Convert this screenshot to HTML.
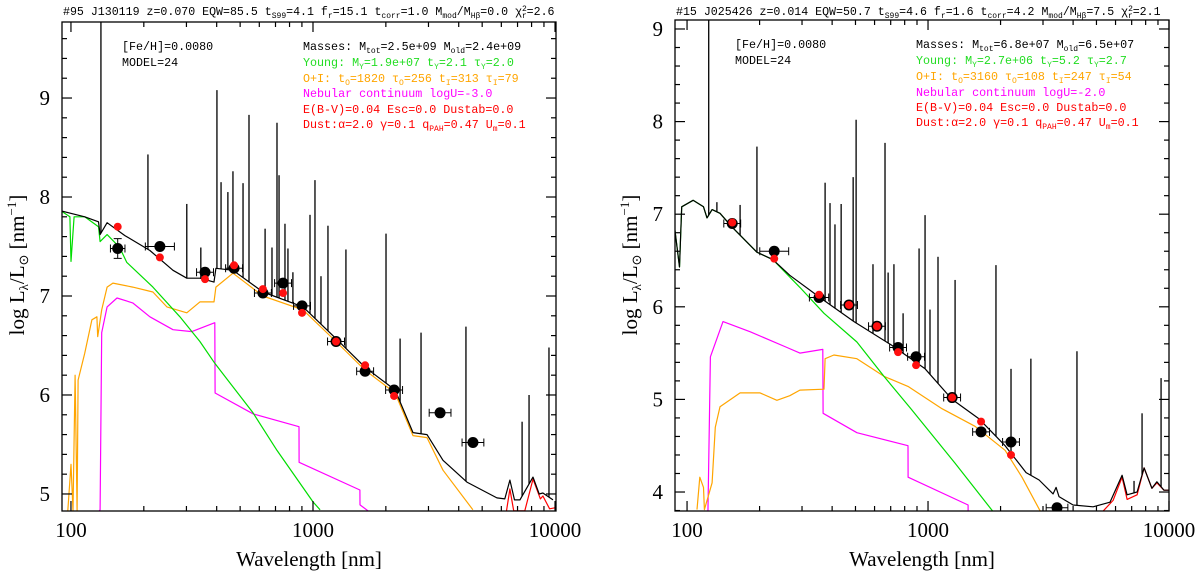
<!DOCTYPE html>
<html><head><meta charset="utf-8"><title>SED fits</title>
<style>
html,body{margin:0;padding:0;background:#fff;}
svg{display:block;}
.ttl{font-family:"Liberation Mono",monospace;font-size:11.6px;fill:#000;}
.ann{font-family:"Liberation Mono",monospace;font-size:11.7px;}
.sb{font-size:8px;}
.tick{font-family:"Liberation Serif",serif;font-size:21px;fill:#000;}
.axl{font-family:"Liberation Serif",serif;font-size:21px;fill:#000;}
</style></head>
<body>
<svg id="chart" width="1200" height="572" viewBox="0 0 1200 572" xmlns="http://www.w3.org/2000/svg">
<defs>
<clipPath id="clip1"><rect x="62" y="22" width="494" height="489"/></clipPath>
<clipPath id="clip2"><rect x="675" y="20" width="494" height="491"/></clipPath>
</defs>
<text class="ttl" x="63" y="15">#95 J130119 z=0.070  EQW=85.5 t<tspan class="sb" dy="3">S99</tspan><tspan dy="-3">=4.1 f</tspan><tspan class="sb" dy="3">r</tspan><tspan dy="-3">=15.1 t</tspan><tspan class="sb" dy="3">corr</tspan><tspan dy="-3">=1.0 M</tspan><tspan class="sb" dy="3">mod</tspan><tspan dy="-3">/M</tspan><tspan class="sb" dy="3">Hβ</tspan><tspan dy="-3">=0.0 χ</tspan><tspan class="sb" dy="-4">2</tspan><tspan class="sb" dx="-5" dy="7">r</tspan><tspan dy="-3">=2.6</tspan></text>
<text class="ttl" x="676" y="15">#15 J025426 z=0.014  EQW=50.7 t<tspan class="sb" dy="3">S99</tspan><tspan dy="-3">=4.6 f</tspan><tspan class="sb" dy="3">r</tspan><tspan dy="-3">=1.6 t</tspan><tspan class="sb" dy="3">corr</tspan><tspan dy="-3">=4.2 M</tspan><tspan class="sb" dy="3">mod</tspan><tspan dy="-3">/M</tspan><tspan class="sb" dy="3">Hβ</tspan><tspan dy="-3">=7.5 χ</tspan><tspan class="sb" dy="-4">2</tspan><tspan class="sb" dx="-5" dy="7">r</tspan><tspan dy="-3">=2.1</tspan></text>

<g>
<text class="ann" x="122" y="50" fill="#000">[Fe/H]=0.0080</text>
<text class="ann" x="122" y="66" fill="#000">MODEL=24</text>
<text class="ann" x="303" y="50" fill="#000">Masses: M<tspan class="sb" dy="3">tot</tspan><tspan dy="-3">=2.5e+09 M</tspan><tspan class="sb" dy="3">old</tspan><tspan dy="-3">=2.4e+09</tspan></text>
<text class="ann" x="303" y="66" fill="#22dd22">Young: M<tspan class="sb" dy="3">Y</tspan><tspan dy="-3">=1.9e+07 t</tspan><tspan class="sb" dy="3">Y</tspan><tspan dy="-3">=2.1 τ</tspan><tspan class="sb" dy="3">Y</tspan><tspan dy="-3">=2.0</tspan></text>
<text class="ann" x="303" y="82" fill="#ffa500">O+I: t<tspan class="sb" dy="3">O</tspan><tspan dy="-3">=1820 τ</tspan><tspan class="sb" dy="3">O</tspan><tspan dy="-3">=256 t</tspan><tspan class="sb" dy="3">I</tspan><tspan dy="-3">=313 τ</tspan><tspan class="sb" dy="3">I</tspan><tspan dy="-3">=79</tspan></text>
<text class="ann" x="303" y="97" fill="#ff00ff">Nebular continuum logU=-3.0</text>
<text class="ann" x="303" y="113" fill="#ff0000">E(B-V)=0.04 Esc=0.0 Dustab=0.0</text>
<text class="ann" x="303" y="128" fill="#ff0000">Dust:α=2.0 γ=0.1 q<tspan class="sb" dy="3">PAH</tspan><tspan dy="-3">=0.47 U</tspan><tspan class="sb" dy="3">m</tspan><tspan dy="-3">=0.1</tspan></text>
</g>
<g>
<text class="ann" x="735" y="48" fill="#000">[Fe/H]=0.0080</text>
<text class="ann" x="735" y="64" fill="#000">MODEL=24</text>
<text class="ann" x="916" y="48" fill="#000">Masses: M<tspan class="sb" dy="3">tot</tspan><tspan dy="-3">=6.8e+07 M</tspan><tspan class="sb" dy="3">old</tspan><tspan dy="-3">=6.5e+07</tspan></text>
<text class="ann" x="916" y="64" fill="#22dd22">Young: M<tspan class="sb" dy="3">Y</tspan><tspan dy="-3">=2.7e+06 t</tspan><tspan class="sb" dy="3">Y</tspan><tspan dy="-3">=5.2 τ</tspan><tspan class="sb" dy="3">Y</tspan><tspan dy="-3">=2.7</tspan></text>
<text class="ann" x="916" y="80" fill="#ffa500">O+I: t<tspan class="sb" dy="3">O</tspan><tspan dy="-3">=3160 τ</tspan><tspan class="sb" dy="3">O</tspan><tspan dy="-3">=108 t</tspan><tspan class="sb" dy="3">I</tspan><tspan dy="-3">=247 τ</tspan><tspan class="sb" dy="3">I</tspan><tspan dy="-3">=54</tspan></text>
<text class="ann" x="916" y="96" fill="#ff00ff">Nebular continuum logU=-2.0</text>
<text class="ann" x="916" y="111" fill="#ff0000">E(B-V)=0.04 Esc=0.0 Dustab=0.0</text>
<text class="ann" x="916" y="126" fill="#ff0000">Dust:α=2.0 γ=0.1 q<tspan class="sb" dy="3">PAH</tspan><tspan dy="-3">=0.47 U</tspan><tspan class="sb" dy="3">m</tspan><tspan dy="-3">=0.1</tspan></text>
</g>

<text class="axl" transform="translate(24,265) rotate(-90)" text-anchor="middle">log L<tspan font-size="13" dy="4">λ</tspan><tspan dy="-4">/L</tspan><tspan font-size="13" dy="4">⊙</tspan><tspan dy="-4"> [nm</tspan><tspan font-size="13" dy="-8">−1</tspan><tspan dy="8">]</tspan></text>
<text class="axl" transform="translate(637,265) rotate(-90)" text-anchor="middle">log L<tspan font-size="13" dy="4">λ</tspan><tspan dy="-4">/L</tspan><tspan font-size="13" dy="4">⊙</tspan><tspan dy="-4"> [nm</tspan><tspan font-size="13" dy="-8">−1</tspan><tspan dy="8">]</tspan></text>
<text class="axl" x="309" y="566" text-anchor="middle">Wavelength [nm]</text>
<text class="axl" x="922" y="566" text-anchor="middle">Wavelength [nm]</text>
</svg>
<script>
const p1TotLam = [91,114,130,132,141,167,212,264,301,341,390,397,467,621,910,1256,1641,2184,2590,2958,3444,4325,5750,6200,6510,6800,7160,8110,8600,8910,9810];
const p1TotL   = [7.86,7.80,7.75,7.62,7.74,7.61,7.46,7.26,7.18,7.18,7.14,7.28,7.26,7.04,6.89,6.56,6.28,6.05,5.62,5.60,5.34,5.12,4.96,4.95,5.14,4.94,4.94,5.17,5.00,5.01,4.94];
const p1YoungLam = [91,99,100,103,114,130,132,141,159,170,218,282,341,393,565,710,1000,1070];
const p1YoungL   = [7.86,7.80,7.35,7.80,7.80,7.70,7.55,7.62,7.49,7.34,7.09,6.79,6.54,6.32,5.82,5.44,4.92,4.84];
const p1OldLam = [97,100,102,104,106,107,114,122,128,129,134,141,149,180,218,249,301,341,390,397,467,621,910,1256,1641,2184,2590,2958,3444,4580];
const p1OldL   = [4.83,5.3,4.83,6.2,4.83,6.15,6.42,6.76,6.79,6.59,6.86,7.09,7.13,7.09,7.04,6.89,6.83,6.94,6.94,7.09,7.23,7.00,6.86,6.53,6.25,6.02,5.59,5.57,5.24,4.84];
const p1NebLam = [131,132,134,141,155,180,212,264,316,393,394,565,875,876,1563,1564,1687];
const p1NebL   = [4.83,4.84,6.63,6.89,6.98,6.93,6.79,6.66,6.64,6.73,6.02,5.81,5.68,5.32,5.04,4.89,4.83];
const p1DustLam = [6300,6510,6750,7500,8110,8700,8910,9500,9990];
const p1DustL   = [4.83,5.05,4.83,4.83,5.15,4.95,4.98,4.85,4.86];
const p1LineLam = [133,208,301,344,401,417,445,467,514,544,634,677,710,724,766,788,826,972,1019,1079,1153,1368,2003,2290,2795,4285,7310,7810,9440];
const p1LinePeak= [9.9,8.43,7.93,7.49,9.08,8.15,8.05,8.26,8.14,8.83,7.68,7.49,8.75,8.22,7.73,7.48,7.24,7.82,8.17,7.20,7.71,7.47,7.63,6.57,6.63,6.69,5.73,6.00,6.48];
const p1ObsLam = [156,233,358,472,621,752,901,1245,1642,2163,3350,4580];
const p1ObsL   = [7.48,7.50,7.24,7.28,7.03,7.13,6.90,6.54,6.24,6.05,5.82,5.52];
const p1ObsXerr= [0.03,0.06,0.035,0.035,0.035,0.035,0.035,0.035,0.035,0.035,0.045,0.045];
const p1ObsYerr= [0.10,0.03,0.03,0.02,0.02,0.02,0.02,0.02,0.02,0.02,0.02,0.02];
const p1ModL   = [7.70,7.39,7.17,7.31,7.07,7.03,6.83,6.54,6.30,5.99];
const p1YTicks = [5,6,7,8,9];

const p2TotLam = [89,93,95,106,117,121,127,137,154,195,227,267,356,493,702,972,1259,1629,2088,2553,2890,3305,3399,3497,3998,4840,5690,6390,6700,7370,7880,8490,8910,9530,9990];
const p2TotL   = [6.83,6.43,7.08,7.15,7.08,6.96,7.05,7.01,6.86,6.59,6.51,6.34,6.10,5.84,5.59,5.33,5.00,4.79,4.50,4.21,4.13,3.98,4.05,3.95,3.86,3.84,3.89,4.18,3.97,4.00,4.26,4.04,4.11,4.02,4.02];
const p2YoungLam = [89,93,95,106,117,121,127,137,154,195,227,294,370,507,656,849,1295,1898];
const p2YoungL   = [6.83,6.43,7.08,7.15,7.08,6.96,7.05,7.01,6.86,6.59,6.51,6.21,5.93,5.62,5.25,4.90,4.31,3.76];
const p2OldLam = [110,113,117,118,127,131,137,166,201,236,267,294,370,374,407,507,656,826,1143,1567,2088,2454,2970];
const p2OldL   = [3.81,4.16,4.05,3.81,4.10,4.70,4.92,5.07,5.07,4.99,5.04,5.10,5.11,5.44,5.48,5.44,5.25,5.14,4.90,4.71,4.45,4.16,3.76];
const p2NebLam = [122,125,141,183,260,294,366,367,507,826,827,1466,1467];
const p2NebL   = [3.76,5.46,5.84,5.73,5.56,5.50,5.54,4.85,4.64,4.50,4.16,3.86,3.76];
const p2DustLam = [5180,5860,6390,6700,7370,7880,8490,8910,9530,9990];
const p2DustL   = [3.76,3.91,4.16,3.92,3.97,4.26,4.04,4.10,4.02,4.02];
const p2LineLam = [123,133,166,195,374,392,411,436,489,503,591,663,683,722,788,918,972,1019,1100,1295,1914,2210,2672,4150,7160,7730,9270];
const p2LinePeak= [9.2,7.13,7.10,7.73,7.34,7.12,6.89,7.11,7.40,8.02,6.46,7.77,6.37,6.46,5.93,6.63,6.99,5.97,6.54,6.29,6.45,5.33,5.44,5.52,4.12,4.85,5.23];
const p2ObsLam = [154,230,353,470,614,751,892,1259,1660,2210,3430];
const p2ObsL   = [6.90,6.60,6.10,6.02,5.79,5.56,5.46,5.02,4.65,4.54,3.83];
const p2ObsXerr= [0.035,0.06,0.04,0.035,0.035,0.035,0.035,0.035,0.035,0.035,0.045];
const p2ObsYerr= [0.02,0.03,0.02,0.02,0.02,0.02,0.02,0.02,0.02,0.02,0.02];
const p2ModL   = [6.91,6.52,6.13,6.02,5.79,5.51,5.37,5.02,4.76,4.40];
const p2YTicks = [4,5,6,7,8,9];

const NS = 'http://www.w3.org/2000/svg';
const svg = document.getElementById('chart');

const P1 = {id:1, px0:62, px1:556, py0:22, py1:511, lx0:1.963, lx1:4.004, ly0:4.828, ly1:9.768, clip:'url(#clip1)', labelX:50};
const P2 = {id:2, px0:675, px1:1169, py0:20, py1:511, lx0:1.950, lx1:4.000, ly0:3.795, ly1:9.097, clip:'url(#clip2)', labelX:663};

function sx(p, lam){ return p.px0 + (Math.log10(lam)-p.lx0)/(p.lx1-p.lx0)*(p.px1-p.px0); }
function sy(p, L){ return p.py1 - (L-p.ly0)/(p.ly1-p.ly0)*(p.py1-p.py0); }
function el(tag, attrs, parent){
  const e = document.createElementNS(NS, tag);
  for (const k in attrs) e.setAttribute(k, attrs[k]);
  (parent||svg).appendChild(e);
  return e;
}
function interp(lamArr, LArr, lam){
  const x = Math.log10(lam);
  for (let i=0;i<lamArr.length-1;i++){
    const a=Math.log10(lamArr[i]), b=Math.log10(lamArr[i+1]);
    if (x>=a && x<=b){ const t=(b===a)?0:(x-a)/(b-a); return LArr[i]+t*(LArr[i+1]-LArr[i]); }
  }
  return x<Math.log10(lamArr[0]) ? LArr[0] : LArr[LArr.length-1];
}
function curve(g, p, lamArr, LArr, color, name, w){
  let d='';
  for (let i=0;i<lamArr.length;i++) d += (i?'L':'M') + sx(p,lamArr[i]).toFixed(1)+','+sy(p,LArr[i]).toFixed(1);
  const e = el('path',{d:d, fill:'none', stroke:color, 'stroke-width':w||1.2, 'stroke-linejoin':'round'}, g);
  
  
}

function drawPanel(p, D){
  const g = el('g', {'clip-path':p.clip});
  
  
  curve(g,p,D.nebLam,D.nebL,'#ff00ff','nebular-continuum-curve');
  curve(g,p,D.oldLam,D.oldL,'#ffa500','old-intermediate-population-curve');
  curve(g,p,D.youngLam,D.youngL,'#00dd00','young-population-curve');
  curve(g,p,D.dustLam,D.dustL,'#ff0000','dust-emission-curve');
  curve(g,p,D.totLam,D.totL,'#000','total-model-spectrum');
  for (let i=0;i<D.lineLam.length;i++){
    const x = sx(p,D.lineLam[i]);
    const base = interp(D.totLam, D.totL, D.lineLam[i]);
    const ln = el('line',{x1:x,x2:x,y1:sy(p,base),y2:sy(p,D.linePeak[i]),stroke:'#000','stroke-width':1.3}, g);
    
    
  }
  for (let i=0;i<D.obsLam.length;i++){
    const x = sx(p,D.obsLam[i]), y = sy(p,D.obsL[i]);
    const xa = sx(p,D.obsLam[i]*Math.pow(10,-D.xerr[i])), xb = sx(p,D.obsLam[i]*Math.pow(10,D.xerr[i]));
    const ya = sy(p,D.obsL[i]-D.yerr[i]), yb = sy(p,D.obsL[i]+D.yerr[i]);
    const eb = el('path',{d:`M${xa},${y}L${xb},${y}M${xa},${y-4}L${xa},${y+4}M${xb},${y-4}L${xb},${y+4}M${x},${ya}L${x},${yb}M${x-4},${ya}L${x+4},${ya}M${x-4},${yb}L${x+4},${yb}`, stroke:'#000','stroke-width':1,fill:'none'}, g);
    
    
    const c = el('circle',{cx:x,cy:y,r:5.5,fill:'#000'}, g);
    
    
  }
  for (let i=0;i<D.modL.length;i++){
    const c = el('circle',{cx:sx(p,D.obsLam[i]),cy:sy(p,D.modL[i]),r:4,fill:'#ff1010'}, g);
    
    
  }
  const fr = el('rect',{x:p.px0,y:p.py0,width:p.px1-p.px0,height:p.py1-p.py0,fill:'none',stroke:'#000','stroke-width':1.3});
  
  
  const ax = el('g',{stroke:'#000','stroke-width':1.2});
  
  
  for (let dec=100; dec<=10000; dec*=10){
    for (let m=1;m<=9;m++){
      const lam = dec*m; if (lam>10000) break;
      const x = sx(p,lam); if (x<p.px0-0.5||x>p.px1+0.5) continue;
      const len = m===1?10:5;
      el('line',{x1:x,x2:x,y1:p.py1,y2:p.py1-len},ax);
      el('line',{x1:x,x2:x,y1:p.py0,y2:p.py0+len},ax);
    }
    const t = el('text',{x:sx(p,dec),y:537,'text-anchor':'middle',class:'tick',stroke:'none'});
    t.textContent = String(dec);
    
    
  }
  const ay = el('g',{stroke:'#000','stroke-width':1.2});
  
  
  for (let v=Math.ceil(p.ly0*5)/5; v<=p.ly1; v+=0.2){
    const vv = Math.round(v*5)/5;
    const y = sy(p,vv);
    const major = Math.abs(vv-Math.round(vv))<1e-6;
    const len = major?10:5;
    el('line',{x1:p.px0,x2:p.px0+len,y1:y,y2:y},ay);
    el('line',{x1:p.px1,x2:p.px1-len,y1:y,y2:y},ay);
  }
  for (const v of D.yticks){
    const t = el('text',{x:p.labelX,y:sy(p,v)+7,'text-anchor':'end',class:'tick'});
    t.textContent = String(v);
    
    
  }
}

drawPanel(P1, {totLam:p1TotLam,totL:p1TotL,youngLam:p1YoungLam,youngL:p1YoungL,oldLam:p1OldLam,oldL:p1OldL,
  nebLam:p1NebLam,nebL:p1NebL,dustLam:p1DustLam,dustL:p1DustL,lineLam:p1LineLam,linePeak:p1LinePeak,
  obsLam:p1ObsLam,obsL:p1ObsL,xerr:p1ObsXerr,yerr:p1ObsYerr,modL:p1ModL,yticks:p1YTicks});
drawPanel(P2, {totLam:p2TotLam,totL:p2TotL,youngLam:p2YoungLam,youngL:p2YoungL,oldLam:p2OldLam,oldL:p2OldL,
  nebLam:p2NebLam,nebL:p2NebL,dustLam:p2DustLam,dustL:p2DustL,lineLam:p2LineLam,linePeak:p2LinePeak,
  obsLam:p2ObsLam,obsL:p2ObsL,xerr:p2ObsXerr,yerr:p2ObsYerr,modL:p2ModL,yticks:p2YTicks});
</script>
</body></html>
